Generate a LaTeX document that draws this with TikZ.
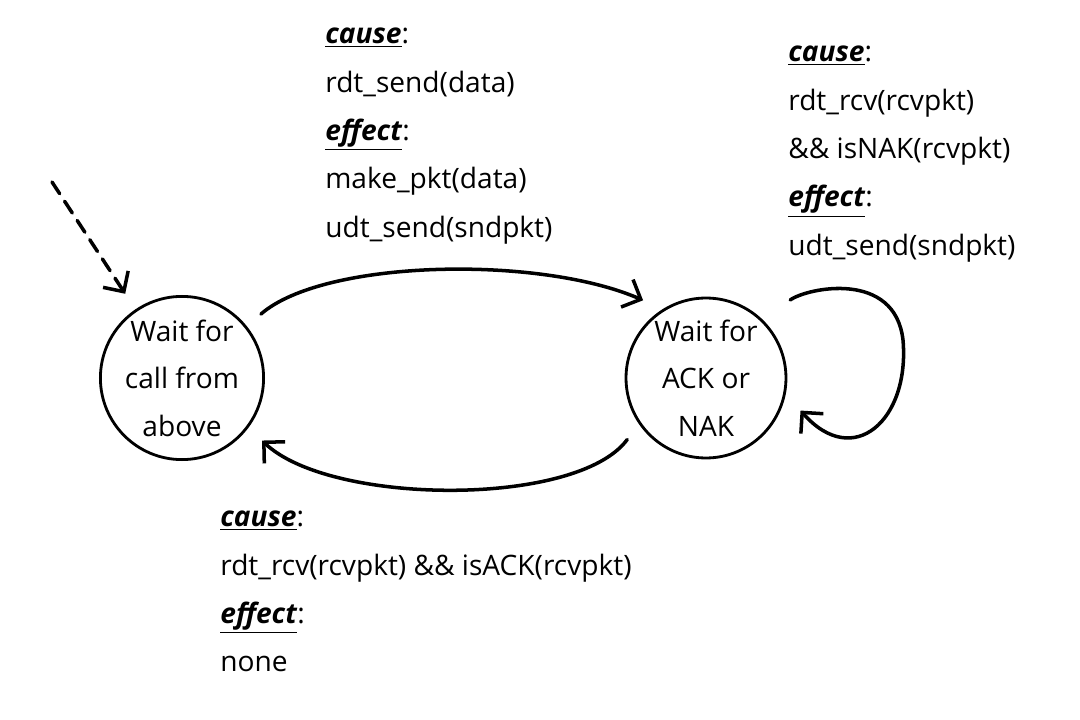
\documentclass[tikz,border=0pt]{standalone}
\usepackage{fontspec}
\setmainfont{Open Sans}
\usetikzlibrary{arrows.meta}
\newcommand{\kw}[1]{\underline{\textbf{\textit{#1}}}}

\begin{document}
\begin{tikzpicture}[
  x=0.02cm, y=-0.02cm,
  state/.style={circle, draw=black, line width=1.6pt, minimum size=3.2cm, inner sep=0pt, outer sep=0.4cm, align=center, font=\fontsize{16}{27}\selectfont},
  transition/.style={line width=2pt, line cap=round, -{Straight Barb[length=3mm,width=6mm]}},
  initial_edge/.style={transition, dash pattern=on 0.28cm off 0.18cm},
  label_text/.style={anchor=north west, inner sep=0pt, align=left, font=\fontsize{16}{27.5}\selectfont}
]
  \useasboundingbox (0,0) rectangle (1080,720);

  % States
  \node[state] (wait_call) at (182,378) {Wait for\\call from\\above};
  \node[state] (wait_ack) at (706,378) {Wait for\\ACK or\\NAK};

  % Initial arrow
  \coordinate (start) at (52,182);
  \draw[initial_edge] (start) -- (wait_call.124);

  % Transitions
  \draw[transition] (wait_call.39) .. controls +(63,-55) and +(-103,-45) .. (wait_ack.129);
  \draw[transition] (wait_ack.218) .. controls +(-50,68) and +(68,65) .. (wait_call.322);
  \draw[transition, shorten <=0.3cm] (wait_ack.44) .. controls +(30,-21) and +(-8,-70) .. (903,340)
    .. controls +(7,80) and +(53,60) .. (wait_ack.-19);

  % Transition labels
  \node[label_text] (send_label) at (325,28)
    {\kw{cause}:\\rdt\_send(data)\\\kw{effect}:\\make\_pkt(data)\\udt\_send(sndpkt)};
  \node[label_text] (nak_label) at (788,46)
    {\kw{cause}:\\rdt\_rcv(rcvpkt)\\\&\& isNAK(rcvpkt)\\\kw{effect}:\\udt\_send(sndpkt)};
  \node[label_text] (ack_label) at (220,511)
    {\kw{cause}:\\rdt\_rcv(rcvpkt) \&\& isACK(rcvpkt)\\\kw{effect}:\\none};

\end{tikzpicture}
\end{document}
